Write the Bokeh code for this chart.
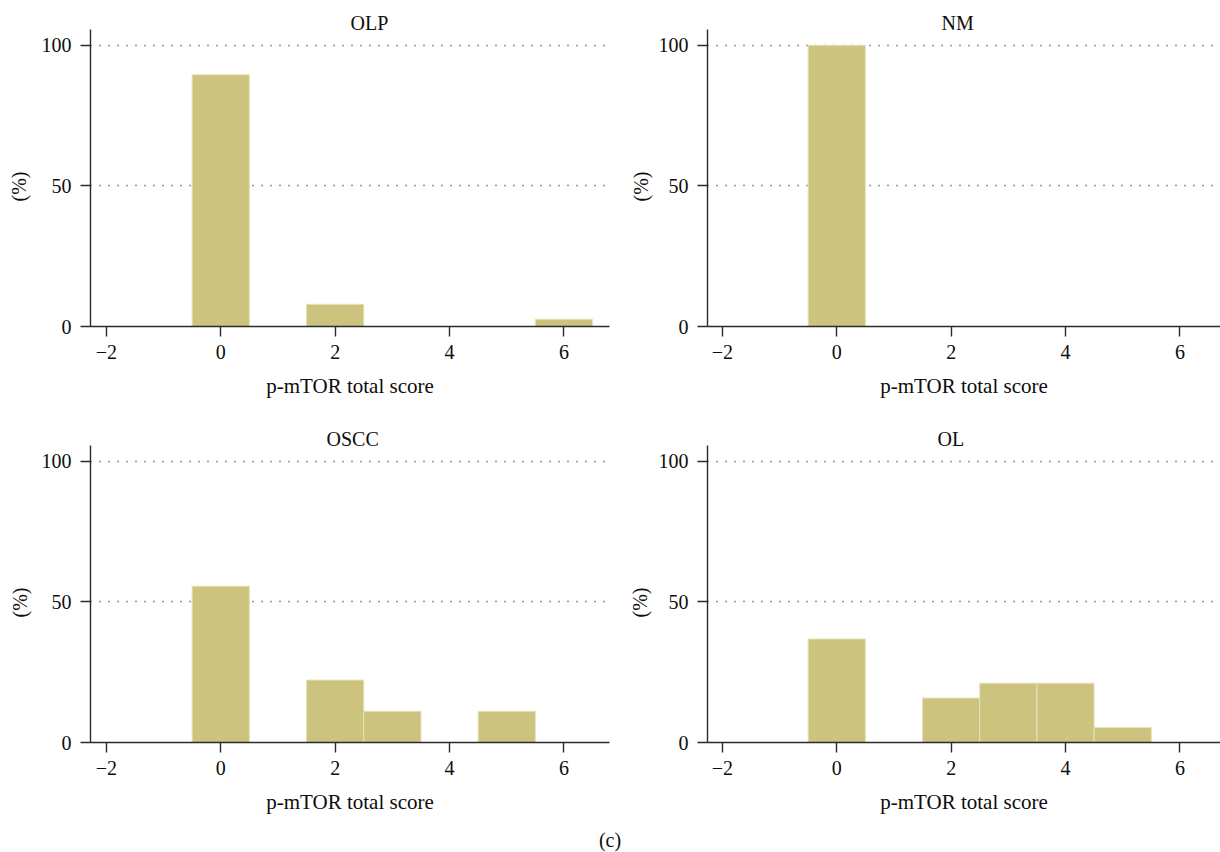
from bokeh.embed import file_html
from bokeh.layouts import column, row
from bokeh.models import Div, FixedTicker, Title
from bokeh.plotting import figure
from bokeh.resources import INLINE

# ---- data: share of cases (%) per p-mTOR total score ----
x_ticks = [-2, 0, 2, 4, 6]
x_tick_labels = ["\u22122", "0", "2", "4", "6"]
y_ticks = [0, 50, 100]

olp_scores = [0, 2, 6]
olp_pct = [89.5, 7.9, 2.6]

nm_scores = [0]
nm_pct = [100.0]

oscc_scores = [0, 2, 3, 5]
oscc_pct = [55.6, 22.2, 11.1, 11.1]

ol_scores = [0, 2, 3, 4, 5]
ol_pct = [36.8, 15.8, 21.1, 21.1, 5.3]

panel_names = ["OLP", "NM", "OSCC", "OL"]

# ---- styling ----
FONT = "Liberation Serif"
BAR_FILL = "#cbc37e"
BAR_EDGE = "#e6e2b8"
INK = "#2b2b2b"
TEXT = "#0d0d0d"
Y_TOP = 105.6
FRAME_H = 297


def make_panel(name, xs, ys, width, height, left, right, x_start, x_end,
               title_dx, ylab_standoff):
    p = figure(width=width, height=height,
               x_range=(x_start, x_end), y_range=(0, Y_TOP),
               output_backend="svg", toolbar_location=None,
               min_border_left=left, min_border_right=right,
               min_border_top=29, min_border_bottom=height - 29 - FRAME_H)
    p.outline_line_color = None
    p.background_fill_color = "white"
    p.border_fill_color = "white"

    p.vbar(x=xs, top=ys, bottom=0, width=1.0,
           fill_color=BAR_FILL, line_color=BAR_EDGE, line_width=1)

    # x axis
    xa = p.xaxis[0]
    xa.ticker = FixedTicker(ticks=x_ticks)
    xa.major_label_overrides = {t: s for t, s in zip(x_ticks, x_tick_labels)}
    xa.axis_label = "p-mTOR total score"
    xa.axis_label_text_font = FONT
    xa.axis_label_text_font_size = "21px"
    xa.axis_label_text_font_style = "normal"
    xa.axis_label_text_color = TEXT
    xa.axis_label_standoff = 12
    xa.major_label_text_font = FONT
    xa.major_label_text_font_size = "20px"
    xa.major_label_text_color = TEXT
    xa.major_label_standoff = 8

    # y axis
    ya = p.yaxis[0]
    ya.ticker = FixedTicker(ticks=y_ticks)
    ya.major_label_text_font = FONT
    ya.major_label_text_font_size = "20px"
    ya.major_label_text_color = TEXT
    ya.major_label_standoff = 9

    for ax in (xa, ya):
        ax.axis_line_color = INK
        ax.axis_line_width = 1.4
        ax.major_tick_line_color = INK
        ax.major_tick_line_width = 1.4
        ax.major_tick_in = 0
        ax.major_tick_out = 10
        ax.minor_tick_line_color = None

    p.xgrid.visible = False
    p.ygrid.ticker = FixedTicker(ticks=[50, 100])
    p.ygrid.grid_line_color = "#333333"
    p.ygrid.grid_line_width = 1.5
    p.ygrid.grid_line_dash = "1 8"

    # panel title above the frame
    p.add_layout(Title(text=name, align="left", offset=title_dx,
                       vertical_align="bottom", standoff=-8,
                       text_font=FONT, text_font_size="20px",
                       text_font_style="normal", text_color=TEXT), "above")
    # y-axis title, centred on the 0-100 span
    p.add_layout(Title(text="(%)", align="left", offset=125,
                       vertical_align="top", standoff=ylab_standoff,
                       text_font=FONT, text_font_size="20px",
                       text_font_style="normal", text_color=TEXT), "left")
    return p


LEFT_RANGE = (-2.277, 6.796)
RIGHT_RANGE = (-2.26, 6.71)

p_olp = make_panel(panel_names[0], olp_scores, olp_pct, 613, 416, 90, 4,
                   *LEFT_RANGE, title_dx=260, ylab_standoff=13)
p_nm = make_panel(panel_names[1], nm_scores, nm_pct, 607, 416, 94, 0,
                  *RIGHT_RANGE, title_dx=234, ylab_standoff=3)
p_oscc = make_panel(panel_names[2], oscc_scores, oscc_pct, 613, 414, 90, 4,
                    *LEFT_RANGE, title_dx=236, ylab_standoff=11)
p_ol = make_panel(panel_names[3], ol_scores, ol_pct, 607, 414, 94, 0,
                  *RIGHT_RANGE, title_dx=230, ylab_standoff=5)

caption = Div(text="(c)", width=1220, height=20, margin=(0, 0, 0, 0),
              styles={"text-align": "center", "font-family": FONT,
                      "font-size": "20px", "color": TEXT,
                      "line-height": "20px", "width": "1220px"})

layout = column(row(p_olp, p_nm, spacing=0),
                row(p_oscc, p_ol, spacing=0),
                caption, spacing=0)

open("out.html", "w").write(file_html(layout, INLINE))
